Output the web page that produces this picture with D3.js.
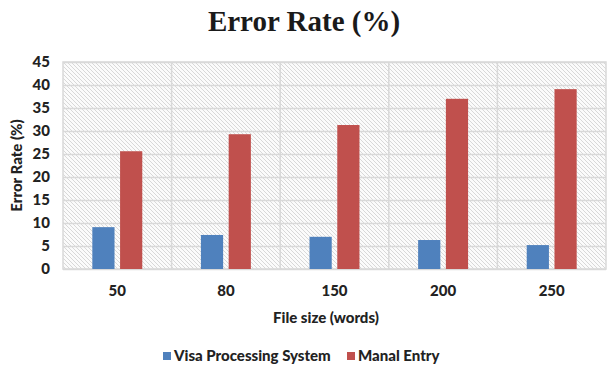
<!DOCTYPE html>
<html>
<head>
<meta charset="utf-8">
<script src="https://cdn.jsdelivr.net/npm/d3@7"></script>
<style>
  html, body { margin: 0; padding: 0; background: #fff; }
  svg { display: block; }
</style>
</head>
<body>
<svg id="chart" width="607" height="381"></svg>
<script>
// Error rate by file size, two entry methods
const categories = ["50", "80", "150", "200", "250"];
const seriesNames = ["Visa Processing System", "Manal Entry"];
const visaValues = [9.1, 7.4, 7.0, 6.3, 5.2];
const manualValues = [25.6, 29.3, 31.3, 37.0, 39.1];
const yTicks = [0, 5, 10, 15, 20, 25, 30, 35, 40, 45];
const colors = ["#4F81BD", "#C0504D"];

const svg = d3.select("#chart");
const margin = { left: 63, right: 1, top: 62, bottom: 112 };
const W = 607, H = 381;
const plotW = W - margin.left - margin.right;
const plotH = H - margin.top - margin.bottom;

// Diagonal hatch fill for the plot area
const defs = svg.append("defs");
const pat = defs.append("pattern")
  .attr("id", "hatch")
  .attr("patternUnits", "userSpaceOnUse")
  .attr("width", 4).attr("height", 4);
pat.append("rect").attr("width", 4).attr("height", 4).attr("fill", "#fbfbfb");
pat.append("path")
  .attr("d", "M-1,-1 L5,5 M-1,3 L1,5 M3,-1 L5,1")
  .attr("stroke", "#d4d4d4").attr("stroke-width", 0.9);

const g = svg.append("g").attr("transform", `translate(${margin.left},${margin.top})`);

const x0 = d3.scaleBand().domain(categories).range([0, plotW]).paddingInner(0).paddingOuter(0);
const x1 = d3.scaleBand().domain(seriesNames).range([x0.bandwidth() * 0.27, x0.bandwidth() * 0.73]).paddingInner(0.2);
const y = d3.scaleLinear().domain([0, 45]).range([plotH, 0]);

g.append("rect").attr("width", plotW).attr("height", plotH).attr("fill", "url(#hatch)");

// Horizontal gridlines
g.append("g")
  .call(d3.axisLeft(y).tickValues(yTicks).tickSize(-plotW).tickFormat(""))
  .call(s => s.select(".domain").remove())
  .call(s => s.selectAll("line").attr("stroke", "#d9d9d9").attr("stroke-width", 1.5));

// Vertical category dividers
g.append("g")
  .selectAll("line")
  .data(categories.slice(1))
  .join("line")
  .attr("x1", d => x0(d)).attr("x2", d => x0(d))
  .attr("y1", 0).attr("y2", plotH)
  .attr("stroke", "#d9d9d9").attr("stroke-width", 1.5);

g.append("rect").attr("width", plotW).attr("height", plotH)
  .attr("fill", "none").attr("stroke", "#d9d9d9").attr("stroke-width", 1.5);

// Bars
const rows = categories.map((c, i) => ({ cat: c, vals: [visaValues[i], manualValues[i]] }));
const groups = g.append("g").selectAll("g").data(rows).join("g")
  .attr("transform", d => `translate(${x0(d.cat)},0)`);
groups.selectAll("rect")
  .data(d => d.vals.map((v, k) => ({ name: seriesNames[k], v, k })))
  .join("rect")
  .attr("x", d => x1(d.name))
  .attr("width", x1.bandwidth())
  .attr("y", d => y(d.v))
  .attr("height", d => plotH - y(d.v))
  .attr("fill", d => colors[d.k]);

const labelFont = "Lato, 'Open Sans', sans-serif";

// Y axis tick labels
g.append("g")
  .call(d3.axisLeft(y).tickValues(yTicks).tickSize(0).tickPadding(13))
  .call(s => s.select(".domain").remove())
  .call(s => s.selectAll("text")
    .attr("font-family", labelFont).attr("font-weight", 900)
    .attr("font-size", 15).attr("fill", "#222"));

// X axis tick labels
g.append("g")
  .attr("transform", `translate(0,${plotH})`)
  .call(d3.axisBottom(x0).tickSize(0).tickPadding(16))
  .call(s => s.select(".domain").remove())
  .call(s => s.selectAll("text")
    .attr("font-family", labelFont).attr("font-weight", 900)
    .attr("font-size", 15).attr("fill", "#222"));

// Title
svg.append("text")
  .attr("x", 304).attr("y", 31)
  .attr("text-anchor", "middle")
  .attr("font-family", "'Liberation Serif', 'DejaVu Serif', serif")
  .attr("font-weight", "bold").attr("font-size", 29).attr("fill", "#1a1a1a")
  .text("Error Rate (%)");

// Axis titles
svg.append("text")
  .attr("transform", `translate(22,${margin.top + plotH / 2}) rotate(-90)`)
  .attr("text-anchor", "middle")
  .attr("font-family", labelFont).attr("font-weight", 900)
  .attr("font-size", 15).attr("fill", "#222")
  .text("Error Rate (%)");

svg.append("text")
  .attr("x", 326).attr("y", 323)
  .attr("text-anchor", "middle")
  .attr("font-family", labelFont).attr("font-weight", 900)
  .attr("font-size", 15).attr("fill", "#222")
  .text("File size (words)");

// Legend
const legendX = [163, 347];
const legend = svg.append("g").selectAll("g").data(seriesNames).join("g")
  .attr("transform", (d, i) => `translate(${legendX[i]},362)`);
legend.append("rect").attr("x", 0).attr("y", -10).attr("width", 8).attr("height", 8)
  .attr("fill", (d, i) => colors[i]);
legend.append("text").attr("x", 11).attr("y", -1)
  .attr("font-family", labelFont).attr("font-weight", 900)
  .attr("font-size", 15).attr("fill", "#222")
  .text(d => d);
</script>
</body>
</html>
